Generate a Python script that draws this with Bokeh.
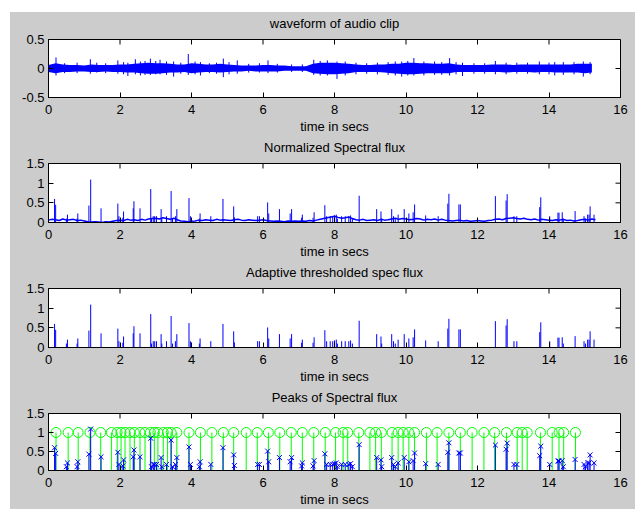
import numpy as np
from bokeh.plotting import figure
from bokeh.models import Range1d, FixedTicker, Spacer, LinearAxis
from bokeh.layouts import column, row
from bokeh.embed import file_html
from bokeh.resources import INLINE

FONT = "Liberation Sans"
BG = "#cccccc"
BLUE = "#0000ff"
GREEN = "#00ff00"

# ---------------- texts / ticks ----------------
titles = ["waveform of audio clip", "Normalized Spectral flux",
          "Adaptive thresholded spec flux", "Peaks of Spectral flux"]
x_label = "time in secs"
x_ticks = [0, 2, 4, 6, 8, 10, 12, 14, 16]
x_tick_labels = ["0", "2", "4", "6", "8", "10", "12", "14", "16"]
wave_y_ticks = [-0.5, 0, 0.5]
wave_y_tick_labels = ["-0.5", "0", "0.5"]
flux_y_ticks = [0, 0.5, 1, 1.5]
flux_y_tick_labels = ["0", "0.5", "1", "1.5"]
x_limits = (0, 16)
wave_limits = (-0.5, 0.5)
flux_limits = (0, 1.5)
clip_end = 15.3

# ---------------- waveform (envelope read every 0.2 s) ----------------
wave_step = 0.2
wave_upper = [0.06, 0.09, 0.07, 0.06, 0.06, 0.05, 0.07, 0.06, 0.06, 0.06,
              0.07, 0.07, 0.08, 0.09, 0.10, 0.09, 0.09, 0.08, 0.07, 0.07,
              0.09, 0.08, 0.07, 0.07, 0.08, 0.07, 0.06, 0.05, 0.05, 0.05,
              0.06, 0.06, 0.05, 0.05, 0.04, 0.04, 0.04, 0.08, 0.10, 0.10,
              0.10, 0.09, 0.08, 0.07, 0.06, 0.06, 0.07, 0.07, 0.08, 0.08,
              0.10, 0.10, 0.09, 0.09, 0.08, 0.08, 0.09, 0.07, 0.06, 0.06,
              0.06, 0.06, 0.07, 0.07, 0.07, 0.06, 0.07, 0.07, 0.07, 0.07,
              0.07, 0.07, 0.07, 0.07, 0.08, 0.08, 0.08]
wave_lower = [-0.06, -0.08, -0.06, -0.06, -0.05, -0.05, -0.06, -0.06, -0.05, -0.06,
              -0.06, -0.07, -0.07, -0.08, -0.09, -0.09, -0.08, -0.07, -0.07, -0.06,
              -0.08, -0.07, -0.06, -0.06, -0.07, -0.06, -0.05, -0.05, -0.04, -0.05,
              -0.05, -0.05, -0.05, -0.04, -0.04, -0.04, -0.04, -0.08, -0.09, -0.10,
              -0.10, -0.09, -0.08, -0.06, -0.06, -0.06, -0.06, -0.07, -0.08, -0.09,
              -0.10, -0.10, -0.09, -0.08, -0.08, -0.08, -0.08, -0.06, -0.06, -0.06,
              -0.06, -0.06, -0.06, -0.06, -0.07, -0.06, -0.06, -0.06, -0.07, -0.06,
              -0.06, -0.07, -0.07, -0.07, -0.07, -0.08, -0.07]
wave_t = [round(wave_step * i, 2) for i in range(len(wave_upper))]

wave_spike_t = [0.21, 0.45, 0.80, 1.17, 1.35, 1.60, 1.94, 2.10, 2.22, 2.43, 2.57, 2.70,
                2.85, 3.00, 3.12, 3.30, 3.50, 3.70, 3.91, 4.10, 4.25, 4.50, 4.70, 4.89,
                5.05, 5.28, 5.60, 5.90, 6.14, 6.40, 6.80, 7.10, 7.42, 7.60, 7.80, 8.07,
                8.30, 8.60, 8.90, 9.20, 9.50, 9.70, 9.88, 10.05, 10.22, 10.50, 10.80,
                11.00, 11.22, 11.40, 11.58, 11.90, 12.20, 12.50, 12.80, 13.10, 13.40,
                13.73, 14.00, 14.16, 14.40, 14.70, 14.96, 15.15]
wave_spike_top = [0.19, 0.09, 0.10, 0.16, 0.10, 0.09, 0.14, 0.11, 0.10, 0.16, 0.12, 0.13,
                  0.17, 0.13, 0.15, 0.12, 0.12, 0.10, 0.25, 0.12, 0.11, 0.09, 0.10, 0.17,
                  0.11, 0.14, 0.08, 0.09, 0.14, 0.08, 0.07, 0.07, 0.15, 0.13, 0.14, 0.12,
                  0.12, 0.10, 0.09, 0.10, 0.11, 0.12, 0.12, 0.13, 0.18, 0.12, 0.12,
                  0.11, 0.18, 0.11, 0.10, 0.09, 0.09, 0.13, 0.10, 0.10, 0.10,
                  0.12, 0.10, 0.11, 0.11, 0.11, 0.12, 0.11]
wave_spike_bot = [-0.12, -0.08, -0.08, -0.09, -0.07, -0.08, -0.09, -0.10, -0.13, -0.10, -0.12, -0.11,
                  -0.11, -0.10, -0.10, -0.11, -0.14, -0.09, -0.11, -0.10, -0.12, -0.08, -0.09, -0.15,
                  -0.10, -0.09, -0.07, -0.07, -0.08, -0.07, -0.06, -0.06, -0.11, -0.12, -0.12, -0.18,
                  -0.12, -0.10, -0.09, -0.10, -0.11, -0.12, -0.14, -0.12, -0.12, -0.12, -0.11,
                  -0.11, -0.12, -0.10, -0.13, -0.09, -0.09, -0.10, -0.10, -0.09, -0.09,
                  -0.10, -0.10, -0.12, -0.11, -0.10, -0.14, -0.10]

# ---------------- spectral flux background level (read every 0.1 s) ----------------
flux_step = 0.1
flux_base = [0.06, 0.08, 0.07, 0.05, 0.09, 0.06, 0.07, 0.08, 0.05, 0.06,
             0.04, 0.02, 0.01, 0.02, 0.01, 0.00, 0.02, 0.01, 0.03, 0.05,
             0.06, 0.05, 0.08, 0.06, 0.07, 0.05, 0.08, 0.06, 0.09, 0.10,
             0.11, 0.09, 0.12, 0.10, 0.08, 0.11, 0.07, 0.04, 0.03, 0.02,
             0.03, 0.04, 0.06, 0.05, 0.07, 0.06, 0.05, 0.08, 0.06, 0.07,
             0.06, 0.05, 0.07, 0.08, 0.06, 0.05, 0.07, 0.06, 0.05, 0.06,
             0.07, 0.05, 0.04, 0.03, 0.04, 0.03, 0.02, 0.04, 0.03, 0.04,
             0.03, 0.04, 0.03, 0.05, 0.04, 0.06, 0.08, 0.10, 0.12, 0.14,
             0.16, 0.13, 0.11, 0.12, 0.14, 0.10, 0.07, 0.06, 0.08, 0.05,
             0.06, 0.07, 0.05, 0.08, 0.06, 0.07, 0.09, 0.11, 0.08, 0.10,
             0.09, 0.07, 0.08, 0.10, 0.09, 0.06, 0.08, 0.07, 0.09, 0.06,
             0.08, 0.06, 0.05, 0.04, 0.05, 0.06, 0.04, 0.05, 0.03, 0.04,
             0.05, 0.04, 0.03, 0.05, 0.06, 0.08, 0.09, 0.07, 0.10, 0.11,
             0.12, 0.10, 0.09, 0.11, 0.08, 0.07, 0.09, 0.06, 0.08, 0.07,
             0.06, 0.05, 0.07, 0.06, 0.08, 0.05, 0.06, 0.04, 0.05, 0.07,
             0.08, 0.06, 0.09, 0.07]
flux_t = [round(flux_step * i, 2) for i in range(len(flux_base))]

# ---------------- flux peaks (thresholded) ----------------
peak_t = [0.17, 0.20, 0.50, 0.53, 0.80, 0.82, 1.13, 1.18, 1.47, 1.94, 1.97, 2.08,
          2.10, 2.37, 2.39, 2.56, 2.86, 2.88, 2.93, 2.97, 3.02, 3.15, 3.17, 3.30,
          3.43, 3.47, 3.55, 3.59, 3.93, 3.97, 4.22, 4.24, 4.54, 4.88, 5.18, 5.20,
          5.85, 5.90, 6.13, 6.16, 6.46, 6.76, 6.80, 7.08, 7.10, 7.40, 7.43, 7.73,
          7.78, 7.88, 7.95, 8.00, 8.05, 8.08, 8.20, 8.30, 8.40, 8.45, 8.50, 8.69,
          9.18, 9.30, 9.32, 9.60, 9.65, 9.70, 9.78, 9.95, 10.08, 10.20, 10.24, 10.55,
          10.90, 11.17, 11.20, 11.48, 11.52, 12.50, 12.80, 12.83, 13.02, 13.10, 13.74, 13.77,
          14.02, 14.25, 14.28, 14.37, 14.40, 14.73, 14.98, 15.02, 15.08, 15.12, 15.15, 15.26]
peak_v = [0.60, 0.45, 0.10, 0.20, 0.10, 0.23, 0.43, 1.09, 0.36, 0.48, 0.16, 0.12,
          0.28, 0.36, 0.54, 0.36, 0.85, 0.10, 0.16, 0.16, 0.16, 0.34, 0.10, 0.16,
          0.80, 0.10, 0.16, 0.34, 0.62, 0.16, 0.10, 0.23, 0.16, 0.60, 0.41, 0.13,
          0.16, 0.16, 0.51, 0.23, 0.34, 0.23, 0.34, 0.12, 0.20, 0.12, 0.26, 0.44,
          0.16, 0.16, 0.16, 0.18, 0.20, 0.10, 0.16, 0.16, 0.16, 0.18, 0.10, 0.68,
          0.34, 0.28, 0.10, 0.34, 0.16, 0.10, 0.20, 0.34, 0.23, 0.26, 0.46, 0.18,
          0.16, 0.48, 0.73, 0.46, 0.46, 0.67, 0.56, 0.72, 0.16, 0.16, 0.39, 0.64,
          0.16, 0.25, 0.25, 0.26, 0.10, 0.29, 0.16, 0.10, 0.20, 0.20, 0.41, 0.20]

# ---------------- detected onsets ----------------
onset_t = [0.21, 0.55, 0.83, 1.16, 1.46, 1.76, 1.92, 2.03, 2.14, 2.28, 2.40, 2.56,
           2.70, 2.85, 2.96, 3.06, 3.21, 3.33, 3.43, 3.59, 3.93, 4.25, 4.57, 4.89,
           5.18, 5.53, 5.84, 6.15, 6.47, 6.79, 7.10, 7.42, 7.74, 8.03, 8.24, 8.37,
           8.68, 8.99, 9.15, 9.31, 9.61, 9.78, 9.92, 10.08, 10.24, 10.57, 10.87, 11.20,
           11.52, 11.85, 12.18, 12.48, 12.81, 13.11, 13.25, 13.39, 13.76, 14.09, 14.28,
           14.41, 14.74]
onset_level = 1.0
onset_v = [onset_level] * len(onset_t)
zero_peaks = [0.0] * len(peak_t)
zero_onsets = [0.0] * len(onset_t)


def make_fig(title, yr, yt, yl, height, top, bottom):
    p = figure(width=625, height=height, x_range=Range1d(*x_limits), y_range=Range1d(*yr),
               output_backend="svg", toolbar_location=None,
               min_border_left=38, min_border_right=15,
               min_border_top=top, min_border_bottom=bottom,
               background_fill_color="white", border_fill_color=BG,
               outline_line_color="black", outline_line_width=1)
    p.grid.visible = False
    xb = p.below[0]
    ylft = p.left[0]
    xb.ticker = FixedTicker(ticks=x_ticks)
    xb.major_label_overrides = dict(zip(x_ticks, x_tick_labels))
    xb.axis_label = x_label
    xb.axis_label_text_font = FONT
    xb.axis_label_text_font_size = "13px"
    xb.axis_label_text_font_style = "normal"
    xb.axis_label_text_color = "black"
    xb.axis_label_standoff = 2
    ylft.ticker = FixedTicker(ticks=yt)
    ylft.major_label_overrides = dict(zip(yt, yl))
    for ax in (xb, ylft):
        ax.major_tick_in = 5
        ax.major_tick_out = 0
        ax.minor_tick_line_color = None
        ax.major_label_text_font = FONT
        ax.major_label_text_font_size = "13px"
        ax.major_label_text_color = "black"
        ax.axis_line_color = "black"
        ax.major_tick_line_color = "black"
    xb.major_label_standoff = 7
    ylft.major_label_standoff = 4
    # subplot title carried by a tick-less top axis, so its distance to the frame is exact
    top_ax = LinearAxis(ticker=FixedTicker(ticks=[]), axis_label=title,
                        axis_label_standoff=9, axis_label_text_font=FONT,
                        axis_label_text_font_size="13px", axis_label_text_font_style="normal",
                        axis_label_text_color="black", axis_line_color=None,
                        major_tick_in=0, major_tick_out=0, minor_tick_line_color=None,
                        major_label_standoff=0)
    p.add_layout(top_ax, "above")
    # mirrored inward ticks on the top and right edges (MATLAB box style)
    p.ray(x=x_ticks, y=[yr[1]] * len(x_ticks), length=5, length_units="screen",
          angle=-np.pi / 2, line_color="black", line_width=1)
    p.ray(x=[x_limits[1]] * len(yt), y=yt, length=5, length_units="screen",
          angle=np.pi, line_color="black", line_width=1)
    return p


p1 = make_fig(titles[0], wave_limits, wave_y_ticks, wave_y_tick_labels, 124, 24, 39)
p1.varea(x=wave_t, y1=wave_lower, y2=wave_upper, fill_color=BLUE)
p1.segment(x0=wave_spike_t, y0=wave_spike_bot, x1=wave_spike_t, y1=wave_spike_top,
           line_color=BLUE, line_width=1)

p2 = make_fig(titles[1], flux_limits, flux_y_ticks, flux_y_tick_labels, 125, 24, 39)
p2.line(flux_t, flux_base, line_color=BLUE, line_width=1.5)
p2.segment(x0=peak_t, y0=zero_peaks, x1=peak_t, y1=peak_v, line_color=BLUE, line_width=1)

p3 = make_fig(titles[2], flux_limits, flux_y_ticks, flux_y_tick_labels, 125, 24, 39)
p3.line([x_limits[0], clip_end], [0, 0], line_color=BLUE, line_width=1)
p3.segment(x0=peak_t, y0=zero_peaks, x1=peak_t, y1=peak_v, line_color=BLUE, line_width=1)

p4 = make_fig(titles[3], flux_limits, flux_y_ticks, flux_y_tick_labels, 123, 24, 37)
p4.segment(x0=onset_t, y0=zero_onsets, x1=onset_t, y1=onset_v, line_color=GREEN, line_width=1)
p4.scatter(x=onset_t, y=onset_v, marker="circle", size=10, fill_color=None,
           line_color=GREEN, line_width=1)
p4.segment(x0=peak_t, y0=zero_peaks, x1=peak_t, y1=peak_v, line_color=BLUE, line_width=1)
p4.scatter(x=peak_t, y=peak_v, marker="x", size=7, line_color=BLUE, line_width=1)

plots = column(p1, p2, p3, p4, spacing=0, styles={"background-color": BG})
layout = row(Spacer(width=10),
             column(Spacer(height=12), plots, spacing=0),
             spacing=0)

open("out.html", "w").write(file_html(layout, INLINE))
